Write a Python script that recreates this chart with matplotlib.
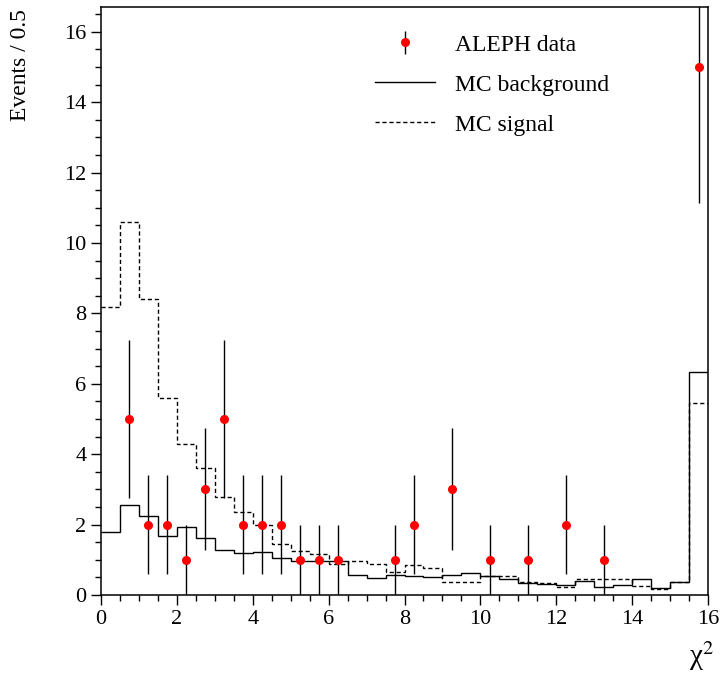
import numpy as np
import matplotlib
matplotlib.use("Agg")
import matplotlib.pyplot as plt

# chi^2 histogram, 32 bins of width 0.5 between 0 and 16
bin_edges = np.arange(0, 16.01, 0.5)

mc_background = [
    1.80, 2.56, 2.25, 1.66, 1.92, 1.63, 1.28, 1.20, 1.22, 1.05, 0.97, 0.95,
    0.97, 0.58, 0.47, 0.57, 0.54, 0.52, 0.56, 0.61, 0.54, 0.45, 0.35, 0.30,
    0.29, 0.40, 0.23, 0.29, 0.46, 0.19, 0.37, 6.33,
]
mc_signal = [
    8.18, 10.60, 8.40, 5.59, 4.29, 3.62, 2.79, 2.36, 1.98, 1.44, 1.24, 1.15,
    0.88, 0.96, 0.87, 0.64, 0.84, 0.76, 0.37, 0.37, 0.54, 0.53, 0.37, 0.33,
    0.23, 0.44, 0.44, 0.44, 0.24, 0.16, 0.37, 5.46,
]

data_x = [0.75, 1.25, 1.75, 2.25, 2.75, 3.25, 3.75, 4.25, 4.75, 5.25, 5.75,
          6.25, 7.75, 8.25, 9.25, 10.25, 11.25, 12.25, 13.25, 15.75]
data_n = [5, 2, 2, 1, 3, 5, 2, 2, 2, 1, 1, 1, 1, 2, 3, 1, 1, 2, 1, 15]

plt.rcParams["font.family"] = ["Liberation Serif", "DejaVu Serif"]
plt.rcParams["mathtext.fontset"] = "stix"

fig = plt.figure(figsize=(7.23, 6.73), dpi=100)
ax = fig.add_axes([0.1397, 0.116, 0.8396, 0.8735])

ax.stairs(mc_background, bin_edges, baseline=None, color="black", linewidth=1.0,
          label="MC background")
ax.stairs(mc_signal, bin_edges, baseline=None, color="black", linewidth=1.0,
          linestyle=(0, (3, 2)), label="MC signal")
ax.errorbar(data_x, data_n, yerr=np.sqrt(data_n), fmt="o", color="red",
            markersize=5.5, ecolor="black", elinewidth=1.0, capsize=0,
            label="ALEPH data", zorder=5)

ax.set_xlim(0, 16)
ax.set_ylim(0, 16.7)
ax.set_xticks(np.arange(0, 17, 2))
ax.set_yticks(np.arange(0, 17, 2))
ax.set_xticks(np.arange(0, 16.01, 0.5), minor=True)
ax.set_yticks(np.arange(0, 16.51, 0.5), minor=True)
ax.tick_params(which="both", direction="out", top=False, right=False,
               labelsize=16, width=1.0)
ax.tick_params(which="major", length=7)
ax.tick_params(which="minor", length=4)
for spine in ax.spines.values():
    spine.set_linewidth(1.1)

ax.set_ylabel("Events / 0.5", fontsize=17, loc="top")
ax.yaxis.set_label_coords(-0.115, 0.997)
ax.set_xlabel("χ$^{2}$", fontsize=21, loc="right")
ax.xaxis.set_label_coords(1.01, -0.075)

handles, labels = ax.get_legend_handles_labels()
order = [labels.index("ALEPH data"), labels.index("MC background"), labels.index("MC signal")]
ax.legend([handles[i] for i in order], [labels[i] for i in order],
          loc="upper left", bbox_to_anchor=(0.416, 0.99), frameon=False,
          fontsize=17, handlelength=2.55, labelspacing=0.78, handletextpad=0.85)

fig.savefig("out.png", dpi=100)
